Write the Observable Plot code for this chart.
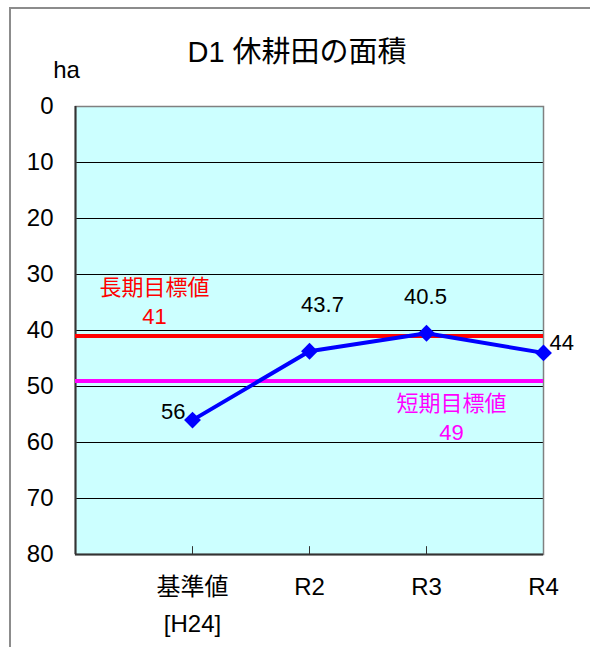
<!DOCTYPE html>
<html><head><meta charset="utf-8">
<script src="https://cdn.jsdelivr.net/npm/d3@7"></script>
<script src="https://cdn.jsdelivr.net/npm/@observablehq/plot@0.6"></script>
<style>
body{margin:0;background:#fff;}
#wrap{position:relative;width:590px;height:647px;overflow:hidden;}
#border{position:absolute;left:9px;top:7px;width:700px;height:700px;border-left:2px solid #8c8c8c;border-top:2px solid #8c8c8c;}
#chart{position:absolute;left:0;top:0;}
</style></head><body>
<div id="wrap"><div id="border"></div><div id="chart"></div></div>
<script>
const title = "D1 休耕田の面積";
const unit = "ha";
const categories = ["基準値\n[H24]", "R2", "R3", "R4"];
const values = [56, 43.7, 40.5, 44];
const yTicks = [0, 10, 20, 30, 40, 50, 60, 70, 80];
const targetNames = ["長期目標値", "短期目標値"];
const targetValues = [41, 49];

const points = categories.map((c, i) => ({cat: c, value: values[i]}));
const FONT = "'Liberation Sans','Noto Sans CJK JP',sans-serif";

const chart = Plot.plot({
  width: 590, height: 647,
  marginLeft: 75, marginRight: 47, marginTop: 106, marginBottom: 93,
  style: {fontFamily: FONT, fontSize: "22px", color: "#000", background: "transparent", overflow: "visible"},
  x: {type: "point", domain: ["", ...categories], padding: 0},
  y: {domain: [0, 80], reverse: true},
  marks: [
    Plot.frame({fill: "#ccffff", stroke: null}),
    Plot.ruleY(yTicks.slice(1, -1), {stroke: "#000", strokeWidth: 1}),
    Plot.frame({stroke: "#808080", strokeWidth: 1.5}),
    Plot.ruleX([""], {stroke: "#333", strokeWidth: 2}),
    Plot.ruleY([80], {stroke: "#333", strokeWidth: 2}),
    Plot.ruleX(categories.slice(0, 3), {y1: 80, y2: 78.6, stroke: "#333", strokeWidth: 1}),
    Plot.axisY({ticks: yTicks, tickSize: 0, tickPadding: 22, fontSize: 24, label: null}),
    Plot.axisX({ticks: categories, tickSize: 0, tickPadding: 15, fontSize: 24, lineHeight: 1.52, label: null}),
    Plot.ruleY([targetValues[0]], {stroke: "#ff0000", strokeWidth: 4}),
    Plot.ruleY([targetValues[1]], {stroke: "#ff00ff", strokeWidth: 4}),
    Plot.text([0], {x: () => categories[0], y: () => targetValues[0], text: () => `${targetNames[0]}\n${targetValues[0]}`,
      dx: -38, dy: -36, fill: "#ff0000", fontSize: 22, lineHeight: 1.35, lineAnchor: "middle"}),
    Plot.text([0], {x: () => categories[2], y: () => targetValues[1], text: () => `${targetNames[1]}\n${targetValues[1]}`,
      dx: 25, dy: 35, fill: "#ff00ff", fontSize: 22, lineHeight: 1.35, lineAnchor: "middle"}),
    Plot.line(points, {x: "cat", y: "value", stroke: "#0000ff", strokeWidth: 4}),
    Plot.dot(points, {x: "cat", y: "value", symbol: "diamond2", r: 7.6, fill: "#0000ff", stroke: null}),
    Plot.text(points, {filter: (d, i) => i === 0, x: "cat", y: "value", text: d => String(d.value), textAnchor: "end", dx: -7, dy: -8, fontSize: 22}),
    Plot.text(points, {filter: (d, i) => i === 1, x: "cat", y: "value", text: d => String(d.value), dx: 13, dy: -46, fontSize: 22}),
    Plot.text(points, {filter: (d, i) => i === 2, x: "cat", y: "value", text: d => String(d.value), dx: -1, dy: -36, fontSize: 22}),
    Plot.text(points, {filter: (d, i) => i === 3, x: "cat", y: "value", text: d => String(d.value), textAnchor: "start", dx: 6, dy: -10, fontSize: 22}),
    Plot.text([title], {frameAnchor: "top-left", lineAnchor: "middle", dx: 221.5, dy: -54, fontSize: 29, text: d => d, textAnchor: "middle"}),
    Plot.text([unit], {frameAnchor: "top-left", lineAnchor: "middle", dx: -9, dy: -36, fontSize: 24, text: d => d, textAnchor: "middle"})
  ]
});
document.getElementById("chart").appendChild(chart);
</script>
</body></html>
